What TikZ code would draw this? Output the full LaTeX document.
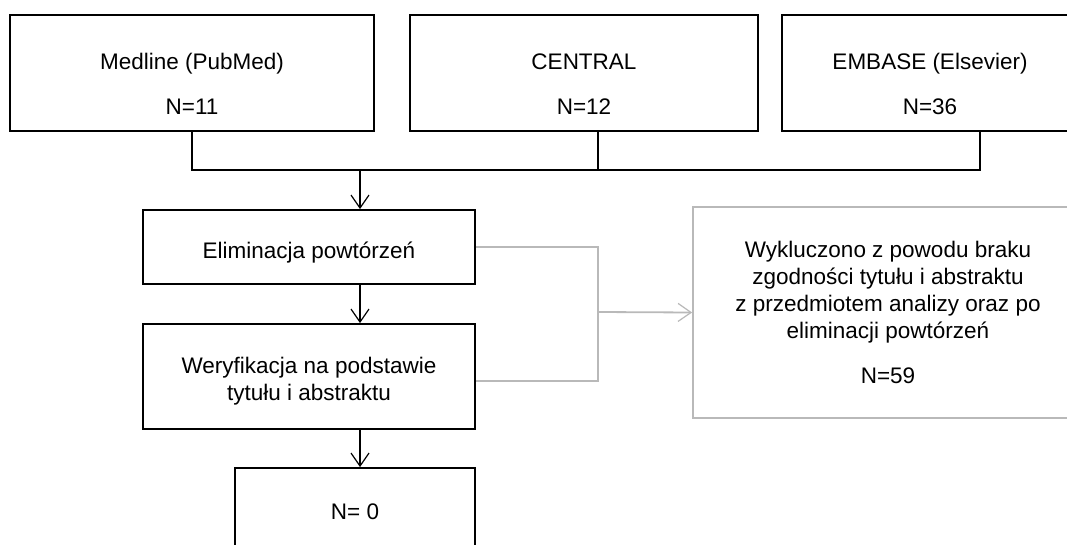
\documentclass[tikz,border=0pt]{standalone}
\usepackage{fontspec}
\setmainfont{Liberation Sans}
\usetikzlibrary{arrows.meta}

\definecolor{paleline}{RGB}{185,185,185}

\tikzset{
  srcbox/.style={draw, line width=1.8pt, align=center, inner sep=0pt, minimum height=116pt},
  stepbox/.style={draw, line width=1.8pt, align=center, inner sep=0pt, minimum width=332pt},
  outbox/.style={draw=paleline, line width=1.8pt, align=center, inner sep=0pt},
  flow/.style={line width=1.8pt, -{Straight Barb[length=13pt,width=18pt,line width=1.2pt]}},
  greyflow/.style={draw=paleline, line width=1.8pt}
}

\begin{document}
\begin{tikzpicture}[x=1pt, y=-1pt, font=\fontsize{22.5}{27}\selectfont]
 \clip (0,0) rectangle (1067,545);
 \fill[white] (0,0) rectangle (1067,545);
 \node[srcbox, minimum width=364pt] (medline) at (192,73) {\rule{0pt}{38pt}Medline (PubMed)\\[18pt]N=11};
 \node[srcbox, minimum width=348pt] (central) at (584,73) {\rule{0pt}{38pt}CENTRAL\\[18pt]N=12};
 \node[srcbox, minimum width=296pt] (embase) at (930,73) {\rule{0pt}{38pt}EMBASE (Elsevier)\\[18pt]N=36};
 \node[stepbox, minimum height=74pt] (elim) at (309,247) {\rule{0pt}{28pt}Eliminacja powtórzeń};
 \node[stepbox, minimum height=105pt] (weryf) at (309,376.5) {\rule{0pt}{26pt}Weryfikacja na podstawie\\tytułu i abstraktu};
 \node[stepbox, minimum width=240pt, minimum height=88pt] (nzero) at (355,512) {N= 0};
 \node[outbox, minimum width=390pt, minimum height=211pt] (excl) at (888,312.5) {Wykluczono z powodu braku\\zgodności tytułu i abstraktu\\z przedmiotem analizy oraz po\\eliminacji powtórzeń\\[18pt]N=59};
 \coordinate (join) at (360,170);
 \coordinate (merge) at (598,312);
 \draw[line width=1.8pt] (medline.south) |- (join) -| ([xshift=50pt]embase.south);
 \draw[line width=1.8pt] ([xshift=14pt]central.south) -- ([xshift=14pt]central.south |- join);
 \draw[flow] (join) -- (join |- elim.north);
 \draw[flow] (join |- elim.south) -- (join |- weryf.north);
 \draw[flow] (join |- weryf.south) -- (join |- nzero.north);
 \draw[greyflow] (elim.east) -| (merge);
 \draw[greyflow] ([yshift=-4.5pt]weryf.east) -| (merge);
 \draw[greyflow, flow] (merge) -- (excl.west);
\end{tikzpicture}
\end{document}
